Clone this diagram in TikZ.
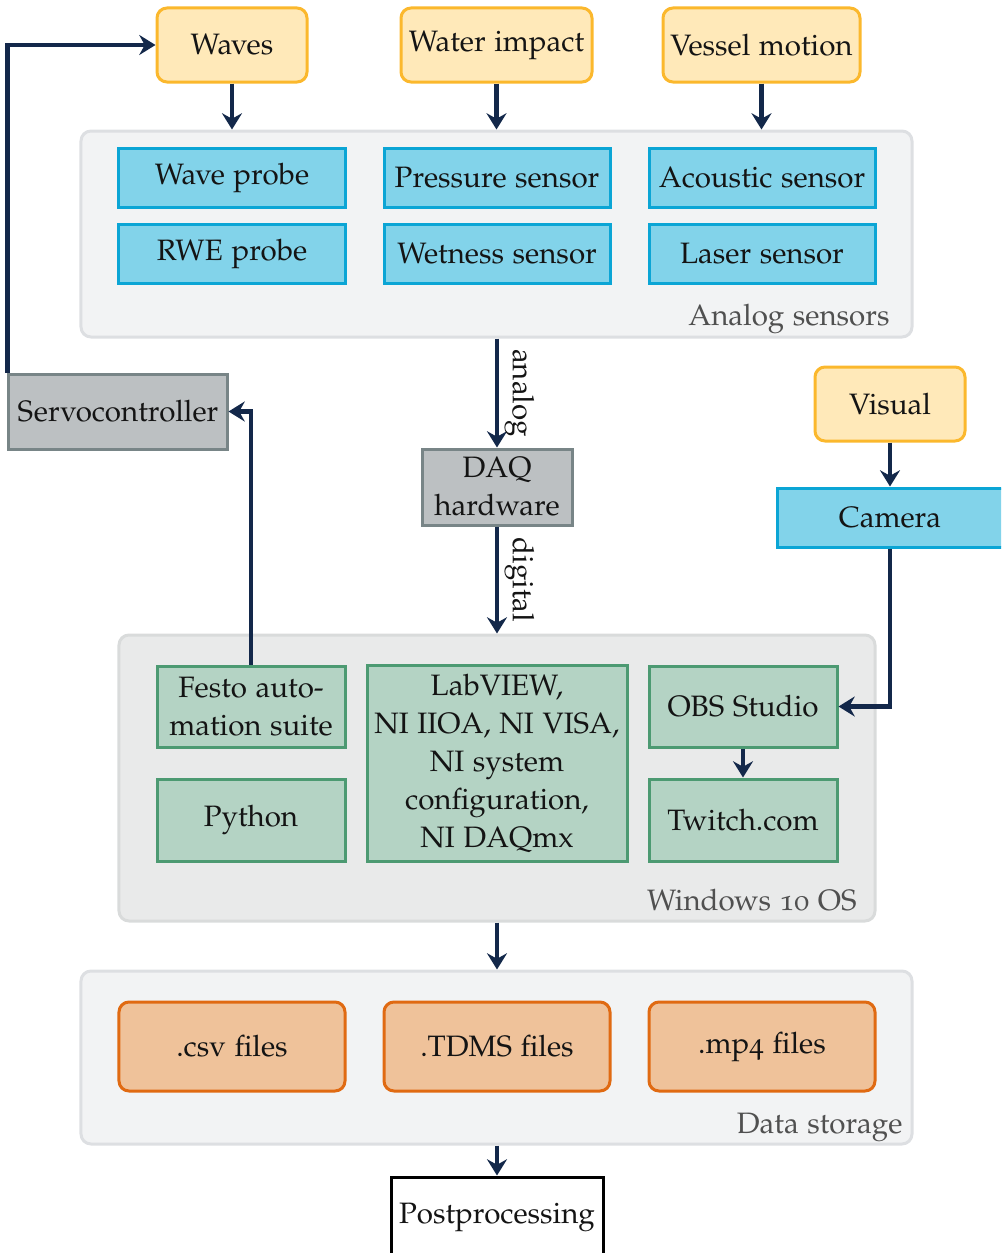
\documentclass[tikz,border=0pt]{standalone}
\usepackage[T1]{fontenc}
\usepackage[osf]{mathpazo}
\usetikzlibrary{arrows.meta,calc}
\definecolor{srcF}{HTML}{FFE9B9}
\definecolor{srcB}{HTML}{FBB82D}
\definecolor{senF}{HTML}{82D3EA}
\definecolor{senB}{HTML}{0BA5D5}
\definecolor{hwF}{HTML}{BCC0C2}
\definecolor{hwB}{HTML}{788587}
\definecolor{swF}{HTML}{B4D3C4}
\definecolor{swB}{HTML}{4C9A72}
\definecolor{fileF}{HTML}{EFC29A}
\definecolor{fileB}{HTML}{E06A12}
\definecolor{grpF}{HTML}{F2F3F4}
\definecolor{grpB}{HTML}{DDDFE2}
\definecolor{winF}{HTML}{E9EAEA}
\definecolor{winB}{HTML}{D9DBDB}
\definecolor{navy}{HTML}{13284A}
\definecolor{textc}{HTML}{141414}
\definecolor{lblc}{HTML}{505050}
\begin{document}
\begin{tikzpicture}[x=0.4pt,y=-0.4pt,
 every node/.style={font=\fontsize{11.8pt}{15.2pt}\selectfont, text=textc},
 base/.style={draw, line width=1.2pt, inner sep=0pt, align=center},
 srcbox/.style={base, draw=srcB, fill=srcF, rounded corners=4pt, minimum height=29.6pt},
 sensbox/.style={base, draw=senB, fill=senF, minimum width=90.4pt, minimum height=23.6pt},
 hwbox/.style={base, draw=hwB, fill=hwF},
 swbox/.style={base, draw=swB, fill=swF, minimum width=75.2pt},
 filebox/.style={base, draw=fileB, fill=fileF, rounded corners=4pt, minimum width=90.4pt, minimum height=35.6pt},
 group/.style={draw=grpB, fill=grpF, line width=1.2pt, rounded corners=4pt, inner sep=0pt},
 wingroup/.style={group, draw=winB, fill=winF},
 grplabel/.style={text=lblc, anchor=base east, inner sep=0pt},
 arr/.style={draw=navy, line width=1.9pt, -{Stealth[length=6.5pt,width=8pt,inset=2.2pt]}},
 chanlabel/.style={rotate=-90, anchor=south, inner sep=3pt, outer sep=0pt}
]
\useasboundingbox (0,0) rectangle (1001,1253);
\clip (0,0) rectangle (1001,1253);

% groups
\node[group, minimum width=332.4pt, minimum height=82.4pt] (analog) at (496.5,234) {};
\node[grplabel] (analoglbl) at (890,325) {Analog sensors};
\node[wingroup, minimum width=302.4pt, minimum height=114.4pt] (windows) at (497,778) {};
\node[grplabel] (winlbl) at (857,910) {Windows 10 OS};
\node[group, minimum width=332.4pt, minimum height=69.2pt] (storage) at (496.5,1057.5) {};
\node[grplabel] (storlbl) at (903,1133) {Data storage};

% sources
\node[srcbox, minimum width=60pt] (waves) at (232,45) {Waves};
\node[srcbox, minimum width=76.4pt] (impact) at (496.5,45) {Water impact};
\node[srcbox, minimum width=78.8pt] (vessel) at (761.5,45) {Vessel motion};
\node[srcbox, minimum width=60pt] (visual) at (890,404) {Visual};

% sensors
\node[sensbox] (wprobe) at (232,177.5) {Wave probe};
\node[sensbox] (psensor) at (497,177.5) {Pressure sensor};
\node[sensbox] (asensor) at (762,177.5) {Acoustic sensor};
\node[sensbox] (rwe) at (232,253.5) {RWE probe};
\node[sensbox] (wetness) at (497,253.5) {Wetness sensor};
\node[sensbox] (laser) at (762,253.5) {Laser sensor};
\node[sensbox] (camera) at (890,517.5) {Camera};

% hardware
\node[hwbox, minimum width=87.2pt, minimum height=30pt] (servo) at (118,411.5) {Servocontroller};
\node[hwbox, minimum width=60pt, minimum height=30.4pt] (daq) at (497,487) {DAQ\\hardware};

% software
\node[swbox, minimum height=32.4pt] (festo) at (251,706.5) {Festo auto-\\mation suite};
\node[swbox, minimum height=32.8pt] (python) at (251,820) {Python};
\node[swbox, minimum width=104pt, minimum height=78.4pt] (labview) at (497,763) {LabVIEW,\\NI IIOA, NI VISA,\\NI system\\configuration,\\NI DAQmx};
\node[swbox, minimum height=32.4pt] (obs) at (743,706.5) {OBS Studio};
\node[swbox, minimum height=32.8pt] (twitch) at (743,820) {Twitch.com};

% files
\node[filebox] (csv) at (232,1046.5) {.csv files};
\node[filebox] (tdms) at (497,1046.5) {.TDMS files};
\node[filebox] (mp4) at (762,1046.5) {.mp4 files};

% postprocessing
\node[base, draw=black, fill=white, minimum width=84.8pt, minimum height=32pt] (post) at (497,1217) {Postprocessing};

% connectors
\draw[arr] (waves.south) -- (waves.south |- analog.north);
\draw[arr] (impact.south) -- (impact.south |- analog.north);
\draw[arr] (vessel.south) -- (vessel.south |- analog.north);
\draw[arr] (daq.north |- analog.south) -- node[chanlabel] {analog} (daq.north);
\draw[arr] (daq.south) -- node[chanlabel] {digital} (daq.south |- windows.north);
\draw[arr] (visual.south) -- (camera.north);
\draw[arr] (camera.south) |- (obs.east);
\draw[arr] (obs.south) -- (twitch.north);
\draw[arr] (festo.north) |- (servo.east);
\draw[arr] (servo.north west) |- (waves.west);
\draw[arr] (windows.south -| daq.south) -- (daq.south |- storage.north);
\draw[arr] (post.north |- storage.south) -- (post.north);
\end{tikzpicture}
\end{document}
